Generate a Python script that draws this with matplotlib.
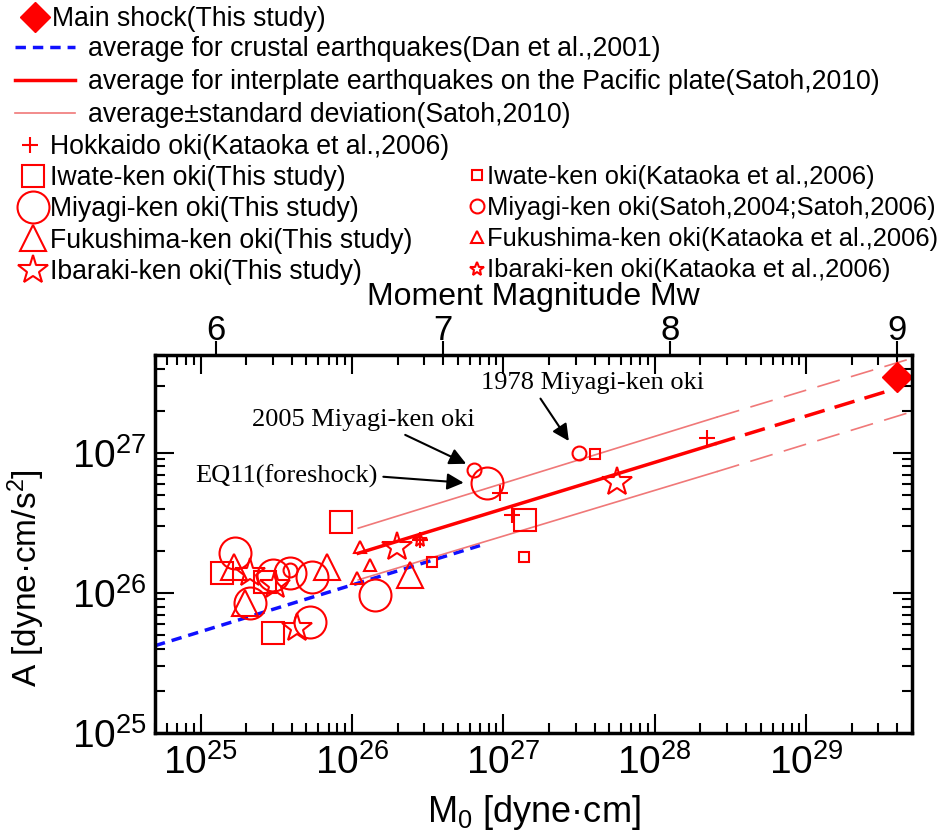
import numpy as np
import matplotlib.pyplot as plt
from matplotlib.ticker import NullLocator

plt.rcParams['font.family'] = ['Liberation Sans', 'DejaVu Sans']
plt.rcParams['mathtext.default'] = 'regular'

RED = '#ff0000'
PINK = '#f07878'

# --- this study (large markers) ---
iwate_m0 = [1.38e25, 8.4e25, 3.0e25, 1.39e27, 2.67e25]
iwate_a = [1.38e26, 3.23e26, 5.15e25, 3.31e26, 1.2e26]
miyagi_m0 = [1.69e25, 2.12e25, 3.03e25, 3.9e25, 5.43e25, 5.28e25, 1.42e26, 7.78e26]
miyagi_a = [1.92e26, 8.43e25, 1.35e26, 1.38e26, 1.31e26, 6.24e25, 9.68e25, 6.08e26]
fukushima_m0 = [1.65e25, 1.97e25, 6.82e25, 2.42e26]
fukushima_a = [1.54e26, 8.43e25, 1.54e26, 1.35e26]
ibaraki_m0 = [2.12e25, 3.1e25, 4.33e25, 1.98e26, 5.62e27]
ibaraki_a = [1.38e26, 1.14e26, 5.6e25, 2.14e26, 6.24e26]
main_m0 = [4.0e29]
main_a = [3.5e27]

# --- other studies (small markers) ---
hokkaido_k_m0 = [2.21e28, 9.53e26, 1.14e27, 2.82e26]
hokkaido_k_a = [1.27e27, 5.2e26, 3.61e26, 2.39e26]
iwate_k_m0 = [4.05e27, 1.37e27, 3.37e26]
iwate_k_a = [9.84e26, 1.82e26, 1.67e26]
miyagi_s_m0 = [3.14e27, 6.35e26, 3.9e25]
miyagi_s_a = [9.95e26, 7.57e26, 1.46e26]
fukushima_k_m0 = [1.13e26, 1.32e26, 1.08e26]
fukushima_k_a = [2.14e26, 1.58e26, 1.27e26]
ibaraki_k_m0 = [2.82e26]
ibaraki_k_a = [2.39e26]

# --- empirical relations (end points) ---
dan_m0 = [5e24, 7.0e26]
dan_a = [4.2e25, 2.18e26]
satoh_m0 = [1.1e26, 2.5e28]
satoh_a = [1.92e26, 1.16e27]
satoh_ext_m0 = [2.5e28, 4.0e29]
satoh_ext_a = [1.16e27, 2.9e27]
sd_m0 = [1.1e26, 2.57e28]
sd_up_a = [2.9e26, 1.8e27]
sd_lo_a = [1.24e26, 7.35e26]
sd_ext_m0 = [2.57e28, 5e29]
sd_up_ext_a = [1.8e27, 4.74e27]
sd_lo_ext_a = [7.35e26, 1.97e27]

mw_ticks = [6, 7, 8, 9]

fig = plt.figure(figsize=(9.46, 8.34), dpi=100)
ax = fig.add_axes([155 / 946, 1 - 733 / 834, 757 / 946, 378 / 834])
ax.set_xscale('log')
ax.set_yscale('log')

# lines
ax.plot(dan_m0, dan_a, color='#1010ff', lw=2.5, dashes=(3, 2),
        label='average for crustal earthquakes(Dan et al.,2001)')
ax.plot(satoh_m0, satoh_a, color=RED, lw=2.5,
        label='average for interplate earthquakes on the Pacific plate(Satoh,2010)')
ax.plot(satoh_ext_m0, satoh_ext_a, color=RED, lw=2.5, dashes=(6, 3))
ax.plot(sd_m0, sd_up_a, color=PINK, lw=1.2,
        label='average\u00b1standard deviation(Satoh,2010)')
ax.plot(sd_m0, sd_lo_a, color=PINK, lw=1.2)
ax.plot(sd_ext_m0, sd_up_ext_a, color=PINK, lw=1.2, dashes=(14, 7))
ax.plot(sd_ext_m0, sd_lo_ext_a, color=PINK, lw=1.2, dashes=(14, 7))

big = dict(ls='none', mfc='none', mec=RED, mew=1.5)
ax.plot(hokkaido_k_m0, hokkaido_k_a, ls='none', marker='+', ms=11, mec=RED,
        mew=1.5, label='Hokkaido oki(Kataoka et al.,2006)')
ax.plot(iwate_m0, iwate_a, marker='s', ms=16, label='Iwate-ken oki(This study)', **big)
ax.plot(miyagi_m0, miyagi_a, marker='o', ms=23, label='Miyagi-ken oki(This study)', **big)
ax.plot(fukushima_m0, fukushima_a, marker='^', ms=19,
        label='Fukushima-ken oki(This study)', **big)
ax.plot(ibaraki_m0, ibaraki_a, marker='*', ms=22, label='Ibaraki-ken oki(This study)', **big)
ax.plot(iwate_k_m0, iwate_k_a, marker='s', ms=7,
        label='Iwate-ken oki(Kataoka et al.,2006)', **big)
ax.plot(miyagi_s_m0, miyagi_s_a, marker='o', ms=10,
        label='Miyagi-ken oki(Satoh,2004;Satoh,2006)', **big)
ax.plot(fukushima_k_m0, fukushima_k_a, marker='^', ms=8,
        label='Fukushima-ken oki(Kataoka et al.,2006)', **big)
ax.plot(ibaraki_k_m0, ibaraki_k_a, marker='*', ms=10,
        label='Ibaraki-ken oki(Kataoka et al.,2006)', **big)
ax.plot(main_m0, main_a, ls='none', marker='D', ms=15, color=RED, clip_on=False,
        label='Main shock(This study)')

ax.set_xlim(5e24, 5e29)
ax.set_ylim(1e25, 5e27)

for s in ax.spines.values():
    s.set_linewidth(2.5)
ax.tick_params(which='both', direction='in', top=True, right=True, width=1.5)
ax.tick_params(which='major', length=14, labelsize=28, pad=8)
ax.tick_params(which='minor', length=7)
ax.tick_params(axis='y', which='major', pad=6)
ax.set_xlabel('M$_0$ [dyne\u00b7cm]', fontsize=26, labelpad=8)
ax.set_ylabel('A [dyne\u00b7cm/s$^2$]', fontsize=24)
ax.yaxis.set_label_coords(-0.143, 0.41)

# top axis: moment magnitude
secax = ax.secondary_xaxis('top', functions=(lambda m: (np.log10(m) - 16.1) / 1.5,
                                             lambda w: 10 ** (1.5 * w + 16.1)))
secax.set_xticks(mw_ticks)
secax.set_xticklabels([str(m) for m in mw_ticks])
secax.xaxis.set_minor_locator(NullLocator())
secax.tick_params(direction='out', length=10, width=1.5, labelsize=25, pad=-4)
secax.set_xlabel('Moment Magnitude Mw', fontsize=23, labelpad=6)

# annotations
serif = dict(family='Liberation Serif', fontsize=19)
arrow = dict(arrowstyle='-|>', color='k', lw=1.5, mutation_scale=25)
ax.annotate('2005 Miyagi-ken oki', xy=(5.9e26, 8.2e26), xytext=(1.19e26, 1.72e27),
            ha='center', va='center', arrowprops=dict(relpos=(0.65, 0), **arrow), **serif)
ax.annotate('EQ11(foreshock)', xy=(5.7e26, 6.1e26), xytext=(3.7e25, 6.8e26),
            ha='center', va='center', arrowprops=dict(relpos=(1, 0.5), **arrow), **serif)
ax.annotate('1978 Miyagi-ken oki', xy=(2.77e27, 1.17e27), xytext=(3.9e27, 3.18e27),
            ha='center', va='center', arrowprops=dict(relpos=(0.25, 0), **arrow), **serif)

# legends
h, l = ax.get_legend_handles_labels()
hd = dict(zip(l, h))
common = dict(loc='upper left', bbox_transform=fig.transFigure, frameon=False,
              borderpad=0, borderaxespad=0, fontsize=19.2)

def add_legend(labels, x, y, **kw):
    opts = dict(common)
    opts.update(kw)
    leg = fig.legend([hd[k] for k in labels], labels,
                     bbox_to_anchor=(x / 946, 1 - y / 834), **opts)
    return leg

add_legend(['Main shock(This study)'], 22, 6, handlelength=0.97, handletextpad=0.15)
add_legend(['average for crustal earthquakes(Dan et al.,2001)',
            'average for interplate earthquakes on the Pacific plate(Satoh,2010)',
            'average\u00b1standard deviation(Satoh,2010)'], 15, 36,
           handlelength=2.25, handletextpad=0.49, labelspacing=0.27)
add_legend(['Hokkaido oki(Kataoka et al.,2006)'], 22, 134,
           handlelength=0.6, handletextpad=0.45)
add_legend(['Iwate-ken oki(This study)', 'Miyagi-ken oki(This study)',
            'Fukushima-ken oki(This study)', 'Ibaraki-ken oki(This study)'],
           20, 165, handlelength=0.97, handletextpad=0.15, labelspacing=0.2)
add_legend(['Iwate-ken oki(Kataoka et al.,2006)', 'Miyagi-ken oki(Satoh,2004;Satoh,2006)',
            'Fukushima-ken oki(Kataoka et al.,2006)', 'Ibaraki-ken oki(Kataoka et al.,2006)'],
           470, 165, fontsize=18.4, handlelength=0.55, handletextpad=0.12,
           labelspacing=0.28)

fig.savefig('out.png', dpi=100)
